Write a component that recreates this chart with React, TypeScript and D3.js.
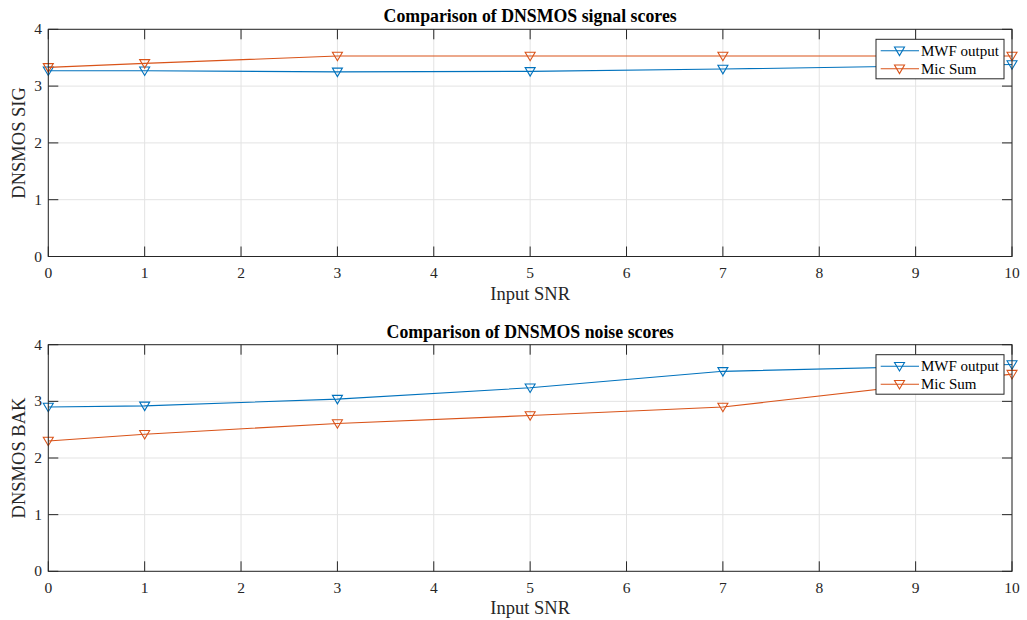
import React from "react";
import * as d3 from "d3";

// Input SNR values at which both systems were evaluated
const snr = [0, 1, 3, 5, 7, 10];

// DNSMOS signal (SIG) scores
const sigMwf = [3.27, 3.27, 3.25, 3.26, 3.30, 3.38];
const sigMicSum = [3.33, 3.40, 3.53, 3.53, 3.53, 3.53];

// DNSMOS background noise (BAK) scores
const bakMwf = [2.90, 2.92, 3.04, 3.24, 3.53, 3.65];
const bakMicSum = [2.30, 2.42, 2.61, 2.75, 2.90, 3.48];

const xTicks = [0, 1, 2, 3, 4, 5, 6, 7, 8, 9, 10];
const yTicks = [0, 1, 2, 3, 4];

const seriesNames = ["MWF output", "Mic Sum"];
const seriesColors = ["#0072BD", "#D95319"];

const W = 1027;
const H = 620;
const FONT = "Liberation Serif, Times New Roman, DejaVu Serif, serif";
const AXIS = "#262626";
const GRID = "#e3e3e3";

type PanelProps = {
  top: number;
  bottom: number;
  title: string;
  yLabel: string;
  series: number[][];
};

function Triangle({ x, y, color }: { x: number; y: number; color: string }) {
  const s = 5;
  const path = `M${x - s},${y - s * 0.75} L${x + s},${y - s * 0.75} L${x},${y + s * 0.95} Z`;
  return <path d={path} fill="none" stroke={color} strokeWidth={1.1} />;
}

const txt = (size: number, weight: string = "normal") => ({
  fontFamily: FONT,
  fontSize: size + "px",
  fontWeight: weight as any,
});

function Panel({ top, bottom, title, yLabel, series }: PanelProps) {
  const left = 48.3;
  const right = 1012;
  const x = d3.scaleLinear().domain([0, 10]).range([left, right]);
  const y = d3.scaleLinear().domain([0, 4]).range([bottom, top]);
  const line = d3
    .line<[number, number]>()
    .x((d) => x(d[0]))
    .y((d) => y(d[1]));
  const tickLen = 10;

  const legendX = 876;
  const legendY = top + 10;
  const legendW = 128;
  const legendH = 39.5;

  return (
    <g>
      {/* grid */}
      {xTicks.map((t) => (
        <line key={"gx" + t} x1={x(t)} x2={x(t)} y1={top} y2={bottom} stroke={GRID} strokeWidth={1} />
      ))}
      {yTicks.map((t) => (
        <line key={"gy" + t} x1={left} x2={right} y1={y(t)} y2={y(t)} stroke={GRID} strokeWidth={1} />
      ))}

      {/* data */}
      {series.map((vals, i) => {
        const pts = snr.map((s, j) => [s, vals[j]] as [number, number]);
        return (
          <g key={"s" + i}>
            <path d={line(pts) || ""} fill="none" stroke={seriesColors[i]} strokeWidth={1.1} />
            {pts.map((p, j) => (
              <Triangle key={j} x={x(p[0])} y={y(p[1])} color={seriesColors[i]} />
            ))}
          </g>
        );
      })}

      {/* box and ticks */}
      <rect x={left} y={top} width={right - left} height={bottom - top} fill="none" stroke={AXIS} strokeWidth={1} />
      {xTicks.map((t) => (
        <g key={"tx" + t}>
          <line x1={x(t)} x2={x(t)} y1={bottom} y2={bottom - tickLen} stroke={AXIS} />
          <line x1={x(t)} x2={x(t)} y1={top} y2={top + tickLen} stroke={AXIS} />
          <text x={x(t)} y={bottom + 21.5} textAnchor="middle" style={txt(15.5)} fill={AXIS}>
            {t}
          </text>
        </g>
      ))}
      {yTicks.map((t) => (
        <g key={"ty" + t}>
          <line x1={left} x2={left + tickLen} y1={y(t)} y2={y(t)} stroke={AXIS} />
          <line x1={right} x2={right - tickLen} y1={y(t)} y2={y(t)} stroke={AXIS} />
          <text x={42} y={y(t) + 5} textAnchor="end" style={txt(15.5)} fill={AXIS}>
            {t}
          </text>
        </g>
      ))}

      {/* labels */}
      <text x={(left + right) / 2} y={top - 7} textAnchor="middle" style={txt(17.8, "bold")} fill="#000">
        {title}
      </text>
      <text x={(left + right) / 2} y={bottom + 43} textAnchor="middle" style={txt(18.5)} fill={AXIS}>
        Input SNR
      </text>
      <text
        transform={`translate(25, ${(top + bottom) / 2}) rotate(-90)`}
        textAnchor="middle"
        style={txt(18.5)}
        fill={AXIS}
      >
        {yLabel}
      </text>

      {/* legend */}
      <rect x={legendX} y={legendY} width={legendW} height={legendH} fill="#fff" stroke={AXIS} strokeWidth={1} />
      {seriesNames.map((name, i) => {
        const cy = legendY + 11.5 + i * 18;
        return (
          <g key={"lg" + i}>
            <line x1={880.7} x2={919} y1={cy} y2={cy} stroke={seriesColors[i]} strokeWidth={1.1} />
            <Triangle x={899.5} y={cy} color={seriesColors[i]} />
            <text x={921} y={cy + 5} style={txt(15)} fill="#000">
              {name}
            </text>
          </g>
        );
      })}
    </g>
  );
}

export default function App() {
  return (
    <svg
      width={W}
      height={H}
      style={{ position: "absolute", left: 0, top: 0, background: "#fff" }}
    >
      <rect x={0} y={0} width={W} height={H} fill="#fff" />
      <Panel
        top={29.3}
        bottom={256.5}
        title="Comparison of DNSMOS signal scores"
        yLabel="DNSMOS SIG"
        series={[sigMwf, sigMicSum]}
      />
      <Panel
        top={344.7}
        bottom={571.3}
        title="Comparison of DNSMOS noise scores"
        yLabel="DNSMOS BAK"
        series={[bakMwf, bakMicSum]}
      />
    </svg>
  );
}
